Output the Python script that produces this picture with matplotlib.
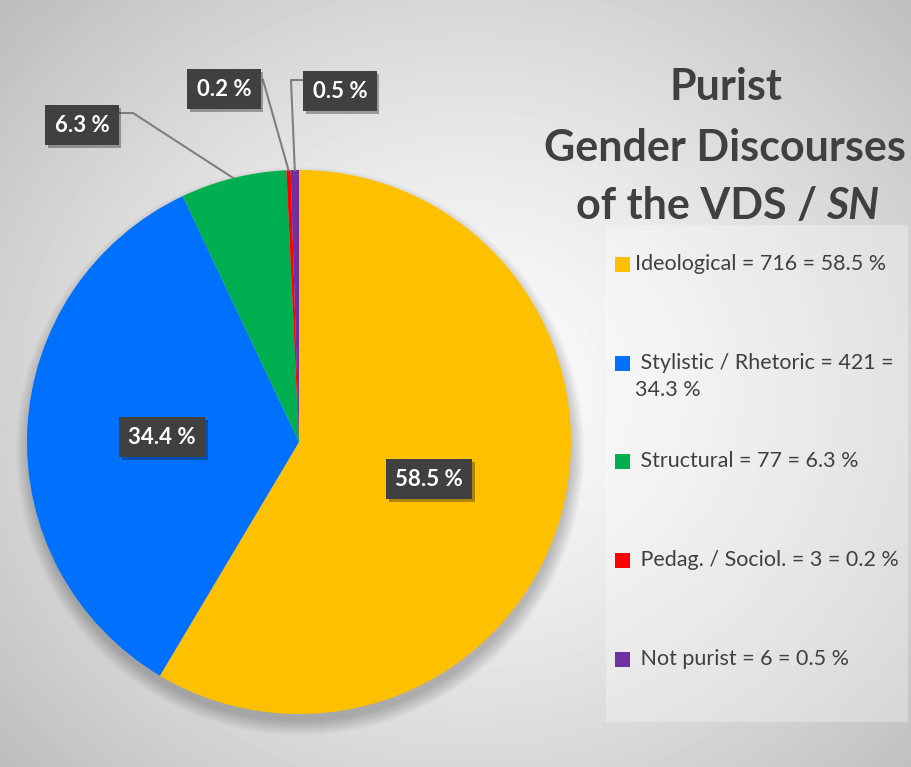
import numpy as np
import matplotlib
matplotlib.use("Agg")
import matplotlib.pyplot as plt
from matplotlib.patches import Rectangle, Circle
import matplotlib.patheffects as pe

plt.rcParams['font.family'] = ['Lato', 'DejaVu Sans']

# data
categories = ["Ideological", "Stylistic / Rhetoric", "Structural",
              "Pedag. / Sociol.", "Not purist"]
counts = [716, 421, 77, 3, 6]
slice_labels = ["58.5 %", "34.4 %", "6.3 %", "0.2 %", "0.5 %"]
legend_texts = [["Ideological = 716 = 58.5 %"],
                [" Stylistic / Rhetoric = 421 =", "34.3 %"],
                [" Structural = 77 = 6.3 %"],
                [" Pedag. / Sociol. = 3 = 0.2 %"],
                [" Not purist = 6 = 0.5 %"]]
colors = ["#FFC000", "#0070FF", "#00B050", "#FF0000", "#7030A0"]

W, H = 912, 767
fig = plt.figure(figsize=(W / 100, H / 100), dpi=100)
ax = fig.add_axes([0, 0, 1, 1])

# radial grey background
yy, xx = np.mgrid[0:H, 0:W]
d = np.hypot((xx - 470) / 620, (yy - 390) / 560)
bg = 0.985 - 0.24 * np.clip(d, 0, 1.2) ** 1.4
ax.imshow(bg, cmap="gray", vmin=0, vmax=1, extent=(0, W, 0, H),
          origin="upper", zorder=0, interpolation="bilinear")

# legend panel
ax.add_patch(Rectangle((606, H - 722), 302, 497, facecolor="white",
                       alpha=0.3, edgecolor="none", zorder=1))

cx, cy, r = 299, H - 442, 272

# soft shadow under the pie
for k in range(10):
    ax.add_patch(Circle((cx + 1, cy - 9), r + 12 - k * 1.5, facecolor="black",
                        alpha=0.022, edgecolor="none", zorder=1))

wedges, _ = ax.pie(counts, colors=colors, startangle=90, counterclock=False,
                   center=(cx, cy), radius=r,
                   wedgeprops=dict(linewidth=0, zorder=2))

# leader lines from wedge edges
def edge_point(w):
    a = np.deg2rad((w.theta1 + w.theta2) / 2)
    return cx + r * np.cos(a), cy + r * np.sin(a)

lc = "#7f7f7f"
px, py = edge_point(wedges[2])
ax.plot([120, 133, px], [H - 113, H - 113, py], color=lc, lw=1.5, zorder=3)
px, py = edge_point(wedges[3])
ax.plot([263, px], [H - 80, py], color=lc, lw=1.5, zorder=3)
px, py = edge_point(wedges[4])
ax.plot([302, 291, px], [H - 80, H - 80, py], color=lc, lw=1.5, zorder=3)

# data labels
label_pos = [(429, 479), (162, 437), (82, 125), (224, 89), (340, 91)]
for txt, (lx, ly) in zip(slice_labels, label_pos):
    t = ax.text(lx, H - ly, txt, ha="center", va="center", color="white",
                fontsize=16, fontweight="bold", zorder=5,
                bbox=dict(boxstyle="square,pad=0.42", facecolor="#404040",
                          edgecolor="none"))
    t.get_bbox_patch().set_path_effects(
        [pe.SimplePatchShadow(offset=(2, -2), alpha=0.35), pe.Normal()])

# title
tc = "#404040"
ax.text(726, H - 87, "Purist", ha="center", va="center", fontsize=31,
        fontweight="bold", color=tc, zorder=5)
ax.text(725, H - 148, "Gender Discourses", ha="center", va="center",
        fontsize=31, fontweight="bold", color=tc, zorder=5)
ax.text(817, H - 206, "of the VDS /", ha="right", va="center", fontsize=31,
        fontweight="bold", color=tc, zorder=5)
ax.text(826, H - 206, "SN", ha="left", va="center", fontsize=31,
        fontweight="bold", fontstyle="italic", color=tc, zorder=5)

# legend
leg_y = [264, 363, 461, 560, 659]
for lines, c, ly in zip(legend_texts, colors, leg_y):
    ax.add_patch(Rectangle((615, H - ly - 7.5), 15, 15, facecolor=c,
                           edgecolor="none", zorder=5))
    for i, line in enumerate(lines):
        ax.text(635, H - ly - 27 * i, line, ha="left", va="center",
                fontsize=15.5, color=tc, zorder=5)

ax.set_xlim(0, W)
ax.set_ylim(0, H)
ax.set_aspect("auto")
ax.axis("off")

fig.savefig("out.png", dpi=100)
